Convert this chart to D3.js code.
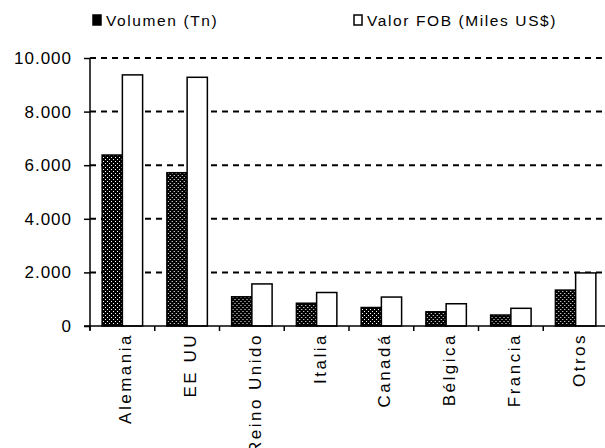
<!DOCTYPE html>
<html>
<head>
<meta charset="utf-8">
<script src="https://cdn.jsdelivr.net/npm/d3@7"></script>
<style>
  body { margin: 0; background: #fff; }
  svg { font-family: "Liberation Sans", Arial, sans-serif; }
</style>
</head>
<body>
<div id="container"></div>
<script>
/* DATA */
const paises = ["Alemania", "EE UU", "Reino Unido", "Italia", "Canadá", "Bélgica", "Francia", "Otros"];
const volumen = [6380, 5720, 1090, 850, 690, 530, 410, 1340];
const valorFob = [9370, 9280, 1570, 1250, 1080, 830, 660, 1980];
const yTicks = [0, 2000, 4000, 6000, 8000, 10000];
const series = ["Volumen (Tn)", "Valor FOB (Miles US$)"];

/* CONSTANTS */
const width = 605,
      height = 448,
      plotLeft = 90,
      plotRight = 608,
      plotTop = 58,
      plotBottom = 326;

const svg = d3.select("#container")
  .append("svg")
  .attr("width", width)
  .attr("height", height);

// dotted pattern for the volume bars
const pat = svg.append("defs").append("pattern")
  .attr("id", "dots")
  .attr("patternUnits", "userSpaceOnUse")
  .attr("width", 4)
  .attr("height", 4);
pat.append("rect").attr("width", 4).attr("height", 4).attr("fill", "#000");
pat.append("rect").attr("x", 1).attr("y", 1).attr("width", 1).attr("height", 1).attr("fill", "#fff");
pat.append("rect").attr("x", 3).attr("y", 3).attr("width", 1).attr("height", 1).attr("fill", "#fff");

/* SCALES */
const xScale = d3.scaleBand()
  .domain(paises)
  .range([plotLeft, plotRight])
  .paddingInner(0)
  .paddingOuter(0);

const inner = d3.scaleBand()
  .domain([0, 1])
  .range([0, xScale.bandwidth()])
  .paddingInner(0)
  .paddingOuter(0.6);

const yScale = d3.scaleLinear()
  .domain([0, 10000])
  .range([plotBottom, plotTop]);

// dashed gridlines
svg.append("g")
  .selectAll("line")
  .data(yTicks.filter(d => d > 0))
  .join("line")
  .attr("x1", plotLeft)
  .attr("x2", width)
  .attr("y1", d => yScale(d))
  .attr("y2", d => yScale(d))
  .attr("stroke", "#000")
  .attr("stroke-width", 2)
  .attr("stroke-dasharray", "6,5");

// bars
const groups = svg.append("g")
  .selectAll("g")
  .data(paises)
  .join("g")
  .attr("transform", d => `translate(${xScale(d)},0)`);

groups.append("rect")
  .attr("x", inner(0))
  .attr("y", (d, i) => yScale(volumen[i]))
  .attr("width", inner.bandwidth())
  .attr("height", (d, i) => plotBottom - yScale(volumen[i]))
  .attr("fill", "url(#dots)")
  .attr("stroke", "#000")
  .attr("stroke-width", 1.5);

groups.append("rect")
  .attr("x", inner(1))
  .attr("y", (d, i) => yScale(valorFob[i]))
  .attr("width", inner.bandwidth())
  .attr("height", (d, i) => plotBottom - yScale(valorFob[i]))
  .attr("fill", "#fff")
  .attr("stroke", "#000")
  .attr("stroke-width", 1.5);

// y axis
const gy = svg.append("g")
  .attr("transform", `translate(${plotLeft},0)`)
  .call(d3.axisLeft(yScale)
    .tickValues(yTicks)
    .tickSize(6)
    .tickPadding(12)
    .tickFormat(d => d3.format(",")(d).replace(/,/g, ".")));
gy.select(".domain").attr("stroke-width", 1.5).attr("d", `M0,${plotTop}V${plotBottom + 4}`);
gy.selectAll(".tick line").attr("stroke-width", 1.5);
gy.selectAll(".tick text")
  .attr("font-size", 17)
  .attr("letter-spacing", 1)
  .attr("fill", "#000")
  .attr("font-family", "Liberation Sans, Arial, sans-serif");

// x axis
const gx = svg.append("g")
  .attr("transform", `translate(0,${plotBottom})`);
gx.append("line")
  .attr("x1", plotLeft - 6)
  .attr("x2", width)
  .attr("stroke", "#000")
  .attr("stroke-width", 1.5);
gx.selectAll(".sep")
  .data(paises)
  .join("line")
  .attr("class", "sep")
  .attr("x1", d => xScale(d))
  .attr("x2", d => xScale(d))
  .attr("y1", 0)
  .attr("y2", 5)
  .attr("stroke", "#000")
  .attr("stroke-width", 1.5);
gx.selectAll(".lbl")
  .data(paises)
  .join("text")
  .attr("class", "lbl")
  .attr("transform", d => `translate(${xScale(d) + xScale.bandwidth() / 2 + 9},7) rotate(-90)`)
  .attr("text-anchor", "end")
  .attr("font-size", 17)
  .attr("letter-spacing", 2.5)
  .text(d => d);

// legend
const legend = svg.append("g")
  .selectAll("g")
  .data(series)
  .join("g")
  .attr("transform", (d, i) => `translate(${i === 0 ? 93 : 354},15)`);
legend.append("rect")
  .attr("width", 8)
  .attr("height", 10)
  .attr("fill", (d, i) => i === 0 ? "#000" : "#fff")
  .attr("stroke", "#000")
  .attr("stroke-width", 1.5);
legend.append("text")
  .attr("x", 13)
  .attr("y", 11)
  .attr("font-size", 15.5)
  .attr("letter-spacing", 1.6)
  .text(d => d);
</script>
</body>
</html>
